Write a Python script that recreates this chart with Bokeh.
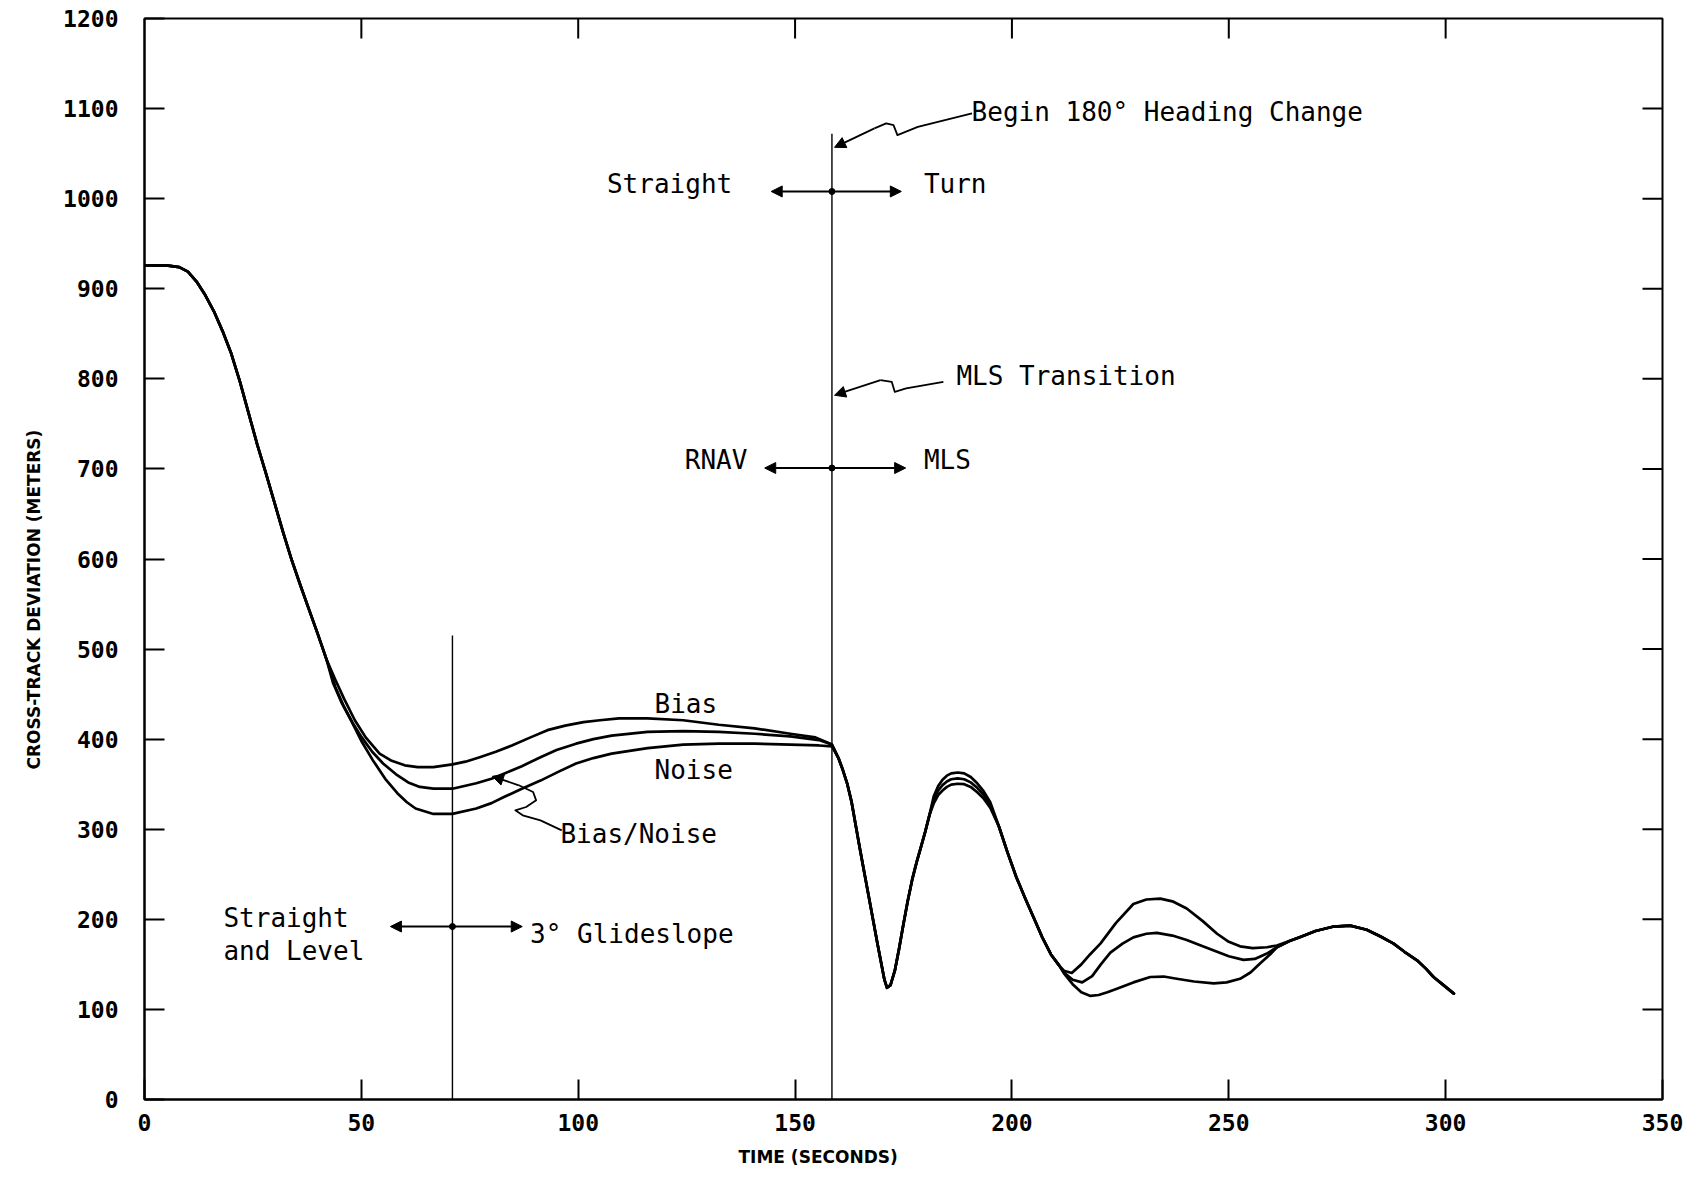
from bokeh.plotting import figure
from bokeh.models import Range1d, FixedTicker, Label, Arrow, NormalHead, Title
from bokeh.embed import file_html
from bokeh.resources import INLINE

# ---------------- data ----------------
x_ticks = [0, 50, 100, 150, 200, 250, 300, 350]
y_ticks = [0, 100, 200, 300, 400, 500, 600, 700, 800, 900, 1000, 1100, 1200]

# common initial descent (all three runs)
t_start = [0, 5, 8, 10, 12, 14, 16, 18, 20, 22, 24, 26, 28, 30, 32, 34, 36, 38, 40, 42]
y_start = [926, 926, 924, 919, 908, 893, 875, 853, 828, 797, 762, 727, 695, 662, 629, 598, 570, 543, 516, 488]

# straight-and-level / glideslope section, per run
t_bias_a = [44, 46, 48.5, 51, 54.2, 57, 60, 63, 66.6, 71, 74, 77.3, 81, 84.7, 89, 92.9, 97, 101.2, 105, 109.4, 116, 124.2, 132.4, 140.7, 148.9, 154.7, 158.5]
y_bias_a = [466, 445, 421, 402, 384, 376, 371, 369, 369, 372, 375, 380, 386, 393, 402, 410, 415, 419, 421, 423, 423, 421, 416, 412, 406, 402, 394]
t_bn_a = [44, 46, 48, 50.1, 52.5, 55, 58, 60.8, 63.5, 66.6, 71, 76.5, 80, 83, 87, 91.3, 95, 99.5, 103.5, 107.7, 116, 124.2, 132.4, 140.7, 148.9, 155.5, 158.5]
y_bn_a = [458, 436, 418, 402, 386, 373, 361, 352, 347, 345, 345, 351, 356, 362, 370, 380, 388, 395, 400, 404, 408, 409, 408, 406, 403, 399, 394]
t_noise_a = [43.5, 45.5, 47.6, 50, 52.6, 55.5, 58.3, 60.5, 62.5, 66.6, 71, 76.5, 80, 83, 87, 91.3, 95.5, 99.5, 103.5, 107.7, 116, 124.2, 132.4, 140.7, 148.9, 155.5, 158.5]
y_noise_a = [462, 440, 421, 398, 377, 356, 340, 330, 323, 317, 317, 323, 329, 336, 345, 354, 364, 373, 379, 384, 390, 394, 395, 395, 394, 393, 392]

# common drop after MLS transition
t_drop = [160, 161, 162, 163, 164, 165, 166, 167, 168, 169, 170, 170.6, 171.2, 172, 173, 174, 175, 176, 177, 178, 179, 180, 181]
y_drop = [379, 366, 351, 331, 304, 277, 251, 225, 199, 173, 148, 133, 124, 127, 143, 168, 195, 221, 244, 263, 280, 297, 316]

# first turn peak, per run
t_peak = [182, 183, 184, 185, 186, 187.5, 189, 190.5, 192, 193.5, 195]
y_bias_peak = [337, 348, 355, 359.5, 362, 363, 362, 358, 351, 342, 330]
y_bn_peak = [333, 343, 349, 353, 355.5, 356.5, 355.5, 352, 346, 338, 327]
y_noise_peak = [329, 338, 343, 347, 349.5, 350.5, 350, 347, 341, 334, 324]

# common fall
t_fall = [197, 199, 201, 203, 205, 207, 209, 211]
y_fall = [303, 274, 247, 224, 202, 180, 161, 148]

# second oscillation, per run
t_bias_b = [212, 213.8, 216, 218, 220.4, 224, 228, 231, 234.2, 237, 240.3, 244, 247.3, 250, 252.6, 255.5, 258.8, 261.1]
y_bias_b = [143, 140.5, 150, 161, 173, 196, 217, 222, 223, 220, 212, 198, 184, 175, 170, 168, 169, 171]
t_bn_b = [212, 214, 216.2, 218.5, 220.5, 222.7, 225.5, 228, 231, 233.4, 237, 240.3, 244, 247.3, 250, 253.4, 256, 258.8, 261.1]
y_bn_b = [141, 133, 130, 137, 150, 163, 173, 180, 184, 185, 182, 177, 170, 164, 159, 155, 156, 162, 169]
t_noise_b = [212, 214, 216, 218.1, 220, 222, 224.2, 228, 231.9, 235, 238, 242, 246.5, 249.5, 252.6, 255, 257.2, 259.5, 261.1]
y_noise_b = [140, 128, 119, 115, 116, 119, 123, 130, 136, 136.5, 134, 131, 129, 130, 134, 141, 151, 161, 169]

# common end
t_end = [264, 266.5, 270, 274.2, 278, 281.8, 285, 288, 290.5, 293.4, 295.5, 297.2, 299.5, 301.9]
y_end = [176, 180.5, 187, 192, 193, 188.5, 181, 173, 164, 154.5, 145, 136, 127, 117.5]

# event markers
event_t = [71, 158.5]
event_top = [515, 1072]

series = {
    "Bias": (t_start + t_bias_a + t_drop + t_peak + t_fall + t_bias_b + t_end,
             y_start + y_bias_a + y_drop + y_bias_peak + y_fall + y_bias_b + y_end),
    "Bias/Noise": (t_start + t_bn_a + t_drop + t_peak + t_fall + t_bn_b + t_end,
                   y_start + y_bn_a + y_drop + y_bn_peak + y_fall + y_bn_b + y_end),
    "Noise": (t_start + t_noise_a + t_drop + t_peak + t_fall + t_noise_b + t_end,
              y_start + y_noise_a + y_drop + y_noise_peak + y_fall + y_noise_b + y_end),
}

# ---------------- figure ----------------
MONO = "DejaVu Sans Mono"
X0, X1, Y0, Y1 = 0, 350, 0, 1200
FRAME_W, FRAME_H = 1518, 1081
p = figure(width=1698, height=1178, x_range=Range1d(X0, X1), y_range=Range1d(Y0, Y1),
           output_backend="svg", toolbar_location=None,
           min_border_left=144, min_border_right=36, min_border_top=18, min_border_bottom=79)
p.background_fill_color = "white"
p.border_fill_color = "white"
p.outline_line_color = "black"
p.outline_line_width = 2
p.xgrid.visible = False
p.ygrid.visible = False


def style_axis(ax, ticks, standoff):
    ax.ticker = FixedTicker(ticks=ticks)
    ax.major_tick_in = 20
    ax.major_tick_out = 0
    ax.minor_tick_line_color = None
    ax.axis_line_width = 2
    ax.axis_line_color = "black"
    ax.major_tick_line_width = 2
    ax.major_tick_line_color = "black"
    ax.major_label_text_font = MONO
    ax.major_label_text_font_size = "23px"
    ax.major_label_text_font_style = "bold"
    ax.major_label_text_color = "black"
    ax.major_label_standoff = standoff


style_axis(p.xaxis[0], x_ticks, 14)
style_axis(p.yaxis[0], y_ticks, 26)

# mirrored inward ticks on the top and right edges (20 px long)
tick_dx = 20 * (X1 - X0) / FRAME_W
tick_dy = 20 * (Y1 - Y0) / FRAME_H
top_t = x_ticks[1:-1]
p.segment(x0=top_t, y0=[Y1] * len(top_t), x1=top_t, y1=[Y1 - tick_dy] * len(top_t),
          line_color="black", line_width=2)
right_v = y_ticks[1:-1]
p.segment(x0=[X1] * len(right_v), y0=right_v, x1=[X1 - tick_dx] * len(right_v), y1=right_v,
          line_color="black", line_width=2)

# axis titles (off-centre, as in the original)
p.add_layout(Title(text="CROSS-TRACK DEVIATION (METERS)", align="left", offset=330,
                   text_font="DejaVu Sans", text_font_style="bold", text_font_size="17px",
                   text_color="black", standoff=34), "left")
p.add_layout(Title(text="TIME (SECONDS)", align="left", offset=594,
                   text_font="DejaVu Sans", text_font_style="bold", text_font_size="17px",
                   text_color="black", standoff=22), "below")

# curves
for name, (tx, vy) in series.items():
    p.line(tx, vy, line_color="black", line_width=2.7, line_join="round", line_cap="round")

# event lines
p.segment(x0=event_t, y0=[0, 0], x1=event_t, y1=event_top, line_color="black", line_width=1.4)

# double arrows with dots
arrow_rows = [
    (158.5, 1008, 144.5, 174.5),
    (158.5, 701, 143, 175.5),
    (71, 192, 56.7, 87.1),
]
for (xc, yc, xl, xr) in arrow_rows:
    for xe in (xl, xr):
        p.add_layout(Arrow(end=NormalHead(size=11, fill_color="black", line_color="black"),
                           x_start=xc, y_start=yc, x_end=xe, y_end=yc,
                           line_width=2, line_color="black"))
p.scatter([r[0] for r in arrow_rows], [r[1] for r in arrow_rows], size=6, color="black")

# leader squiggles
lead_begin_t = [190.8, 178.3, 173.6, 172.7, 171, 168.3]
lead_begin_y = [1094.6, 1079.7, 1070.5, 1081.6, 1083.5, 1078]
lead_mls_t = [184.2, 175.6, 173, 172.3, 169.7]
lead_mls_y = [796.6, 789.3, 785.5, 796.6, 798.5]
lead_bn_t = [96.2, 91.3, 87.2, 85.5, 88, 90.3, 89.6, 86.3]
lead_bn_y = [298.8, 309.9, 315.5, 321, 324.7, 332.1, 341.4, 348.8]
for lt, ly, tip in ((lead_begin_t, lead_begin_y, (159.1, 1057)),
                    (lead_mls_t, lead_mls_y, (159.1, 781.8)),
                    (lead_bn_t, lead_bn_y, (80.2, 358.8))):
    p.line(lt, ly, line_color="black", line_width=1.8, line_join="round")
    p.add_layout(Arrow(end=NormalHead(size=11, fill_color="black", line_color="black"),
                       x_start=lt[-1], y_start=ly[-1], x_end=tip[0], y_end=tip[1],
                       line_width=1.8, line_color="black"))

# text annotations
texts = [
    ("Begin 180° Heading Change", 190.7, 1096, "left"),
    ("Straight", 135.5, 1016, "right"),
    ("Turn", 179.7, 1016, "left"),
    ("MLS Transition", 187.2, 803, "left"),
    ("RNAV", 139, 710, "right"),
    ("MLS", 179.7, 710, "left"),
    ("Bias", 117.6, 439, "left"),
    ("Noise", 117.6, 365.5, "left"),
    ("Bias/Noise", 95.9, 294.6, "left"),
    ("Straight", 18.2, 201, "left"),
    ("and Level", 18.2, 164.7, "left"),
    ("3° Glideslope", 88.9, 184, "left"),
]
for txt, tx, ty, al in texts:
    p.add_layout(Label(x=tx, y=ty, text=txt, text_font=MONO, text_font_size="26px",
                       text_align=al, text_baseline="middle", text_color="black"))

open("out.html", "w").write(file_html(p, INLINE))
